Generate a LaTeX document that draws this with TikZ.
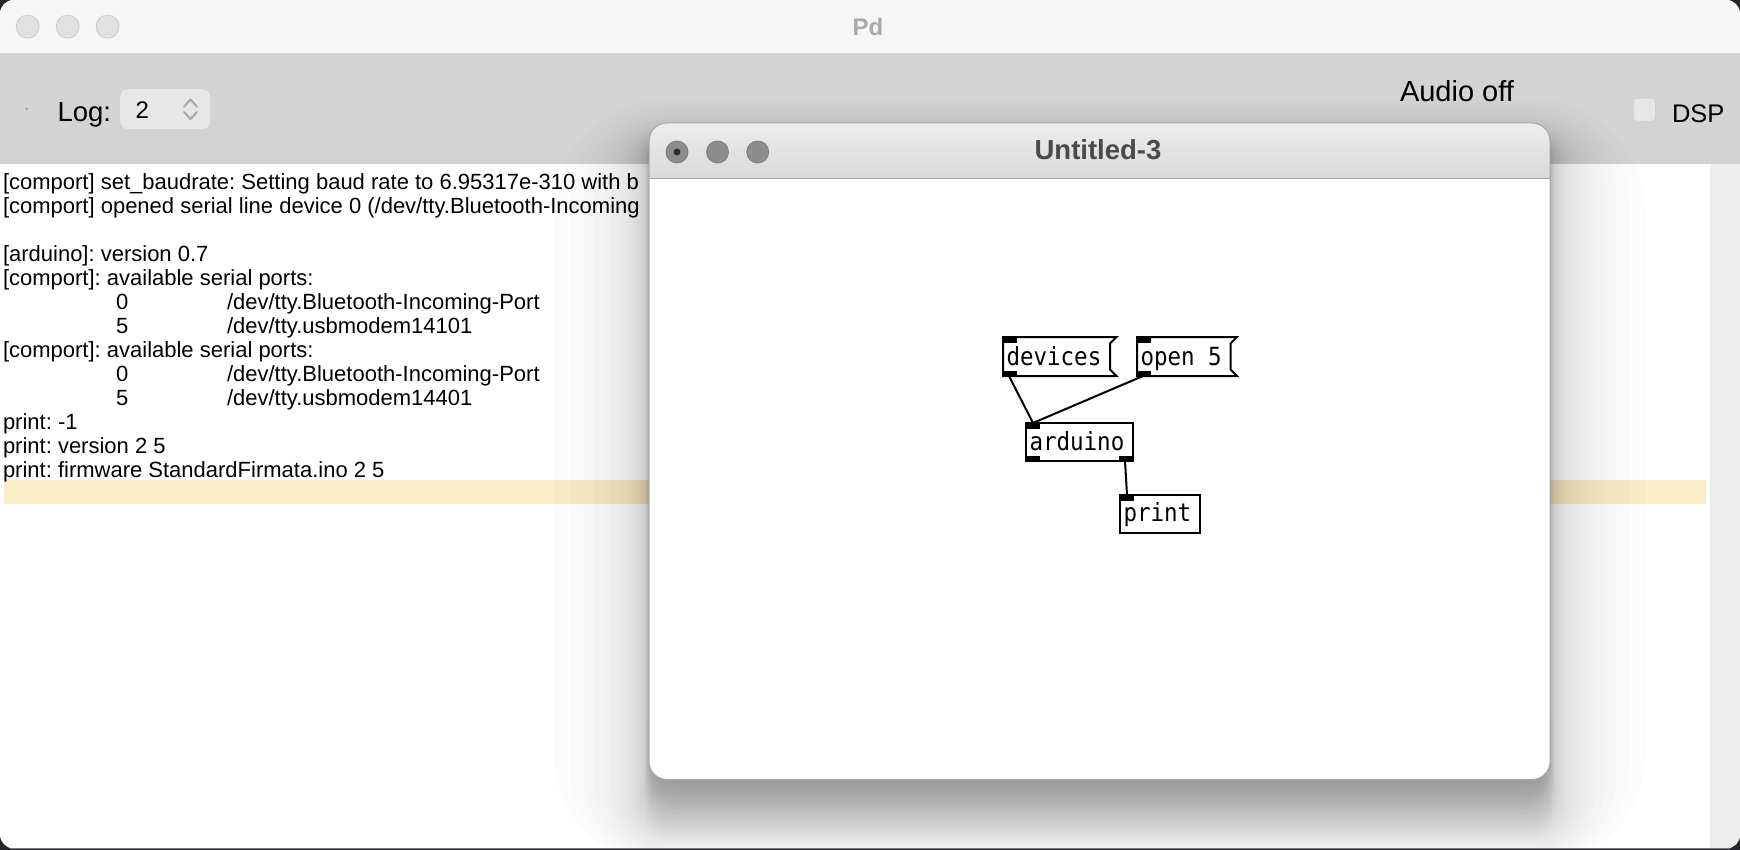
\documentclass[tikz,border=0pt]{standalone}
\usepackage{fontspec}
\setmainfont{Liberation Sans}
\newfontfamily\pdmono[FakeStretch=0.9]{DejaVu Sans Mono}
\usetikzlibrary{calc}
\definecolor{bgdark}{HTML}{26262C}
\definecolor{titlebg}{HTML}{F6F6F6}
\definecolor{sepcol}{HTML}{D4D4D4}
\definecolor{toolbg}{HTML}{D3D3D3}
\definecolor{scrollbg}{HTML}{EDEDED}
\definecolor{hilite}{HTML}{FAECC6}
\definecolor{lightfill}{HTML}{E1E1E1}
\definecolor{lightedge}{HTML}{C9C9C9}
\definecolor{spinfill}{HTML}{E7E7E7}
\definecolor{chev}{HTML}{A9A9A9}
\definecolor{pdgray}{HTML}{AAAAAA}
\definecolor{wintop}{HTML}{EDEDED}
\definecolor{winbot}{HTML}{D9D9D9}
\definecolor{winedge}{HTML}{A8A8A8}
\definecolor{darklight}{HTML}{8D8D8D}
\definecolor{darkledge}{HTML}{7B7B7B}
\definecolor{titletext}{HTML}{4A4A4A}
\begin{document}
\frenchspacing
\begin{tikzpicture}[x=1pt,y=-1pt,
  logtxt/.style={anchor=base west, inner sep=0pt, outer sep=0pt, font=\frenchspacing\fontsize{22}{24}\selectfont, text=black},
  tooltxt/.style={anchor=base west, inner sep=0pt, outer sep=0pt, text=black},
  pdtxt/.style={anchor=base west, inner sep=0pt, outer sep=0pt, font=\pdmono\fontsize{25}{28}\selectfont},
  frame/.style={draw=none, inner sep=0pt, outer sep=0pt, anchor=north west},
  pdline/.style={draw=black, line width=2pt, fill=white, line join=miter},
  conn/.style={draw=black, line width=2pt},
  iolet/.style={fill=black},
  lightbtn/.style={circle, fill=lightfill, draw=lightedge, line width=0.8pt, minimum size=23pt, inner sep=0pt},
  darkbtn/.style={circle, fill=darklight, draw=darkledge, line width=0.8pt, minimum size=22pt, inner sep=0pt},
  chevline/.style={draw=chev, line width=2pt, line cap=round, line join=round}
]
\useasboundingbox (0,0) rectangle (1740,850);
\fill[bgdark] (0,0) rectangle (1740,850);
\begin{scope}
  \clip[rounded corners=14pt] (0,0) rectangle (1740,848.5);
  \fill[white] (0,0) rectangle (1740,850);
  % title bar
  \fill[titlebg] (0,0) rectangle (1740,53.5);
  \draw[sepcol, line width=1pt] (0,54) -- (1740,54);
  % toolbar
  \fill[toolbg] (0,54.5) rectangle (1740,164);
  % scroll strip
  \fill[scrollbg] (1710,164) rectangle (1740,850);
  % highlight
  \fill[hilite] (4,480) rectangle (1706,504);
  % log text
  \node[logtxt] (l0) at (3,189.7) {[comport] set\_baudrate: Setting baud rate to 6.95317e-310 with b};
  \node[logtxt] (l1) at (3,213.7) {[comport] opened serial line device 0 (/dev/tty.Bluetooth-Incoming};
  \node[logtxt] (l3) at (3,261.7) {[arduino]: version 0.7};
  \node[logtxt] (l4) at (3,285.7) {[comport]: available serial ports:};
  \node[logtxt] (l5a) at (116,309.7) {0};
  \node[logtxt] (l5b) at (227,309.7) {/dev/tty.Bluetooth-Incoming-Port};
  \node[logtxt] (l6a) at (116,333.7) {5};
  \node[logtxt] (l6b) at (227,333.7) {/dev/tty.usbmodem14101};
  \node[logtxt] (l7) at (3,357.7) {[comport]: available serial ports:};
  \node[logtxt] (l8a) at (116,381.7) {0};
  \node[logtxt] (l8b) at (227,381.7) {/dev/tty.Bluetooth-Incoming-Port};
  \node[logtxt] (l9a) at (116,405.7) {5};
  \node[logtxt] (l9b) at (227,405.7) {/dev/tty.usbmodem14401};
  \node[logtxt] (l10) at (3,429.7) {print: -1};
  \node[logtxt] (l11) at (3,453.7) {print: version 2 5};
  \node[logtxt] (l12) at (3,477.7) {print: firmware StandardFirmata.ino 2 5};
  % soft shadow of the patch window
  \foreach \i in {1,...,25} {
    \pgfmathsetmacro{\ee}{1.2^\i}
    \pgfmathsetmacro{\rr}{18+\ee}
    \fill[black, opacity=0.0135, rounded corners=\rr pt]
      ({649-\ee},{123+15-0.4*\ee}) rectangle ({1550+\ee},{779.5+3.5*\i});
  }
  \foreach \i in {1,...,10} {
    \fill[black, opacity=0.013, rounded corners=24pt]
      ({649+12-1.5*\i},700) rectangle ({1550-12+1.5*\i},{779.5+6*\i});
  }
\end{scope}
\draw[gray, line width=1pt] (10,848.5) -- (1730,848.5);
% main window controls
\node[lightbtn] (c1) at (27.7,26.6) {};
\node[lightbtn] (c2) at (67.7,26.6) {};
\node[lightbtn] (c3) at (107.6,26.6) {};
\node[anchor=base, inner sep=0pt, text=pdgray, font=\bfseries\fontsize{24}{26}\selectfont] (pdtitle) at (868,36) {Pd};
\fill[gray] (26.6,108.8) circle (1pt);
\node[tooltxt, font=\fontsize{27.5}{30}\selectfont] (logl) at (57.5,121.7) {Log:};
\node[fill=spinfill, rounded corners=8pt, minimum width=90pt, minimum height=40pt, inner sep=0pt, anchor=north west] (spin) at (120,89) {};
\node[tooltxt, font=\fontsize{24}{26}\selectfont] (spinval) at (135.5,119) {2};
\coordinate (chu) at (190.5,99.5);
\coordinate (chd) at (190.5,119);
\draw[chevline] ($(chu)+(-6.5,7.2)$) -- (chu) -- ($(chu)+(6.5,7.2)$);
\draw[chevline] ($(chd)+(-6.5,-7)$) -- (chd) -- ($(chd)+(6.5,-7)$);
\node[tooltxt, font=\fontsize{29}{31}\selectfont] (audio) at (1400,101.7) {Audio off};
\node[fill=spinfill, draw=lightedge, line width=0.5pt, rounded corners=4pt, minimum width=22pt, minimum height=23pt, inner sep=0pt, anchor=north west] (dspbox) at (1633,98) {};
\node[tooltxt, font=\fontsize{25.5}{28}\selectfont] (dsp) at (1672,122.3) {DSP};
% patch window
\begin{scope}
  \clip[rounded corners=18pt] (649,123) rectangle (1550,779.5);
  \fill[white] (649,123) rectangle (1550,779.5);
  \shade[top color=wintop, bottom color=winbot] (649,123) rectangle (1550,178);
  \draw[winedge, line width=1pt] (649,178.5) -- (1550,178.5);
\end{scope}
\draw[winedge, line width=1pt, rounded corners=18pt] (649,123) rectangle (1550,779.5);
\node[darkbtn] (d1) at (677,152) {};
\node[darkbtn] (d2) at (717.5,152) {};
\node[darkbtn] (d3) at (757.7,152) {};
\fill[black!82] (d1.center) circle (3.5pt);
\node[anchor=base, inner sep=0pt, text=titletext, font=\bfseries\fontsize{27.5}{29}\selectfont] (wtitle) at (1098,160) {Untitled-3};
% pd objects
\node[frame, minimum width=113.5pt, minimum height=39pt] (dev) at (1003,337) {};
\node[frame, minimum width=100pt, minimum height=39pt] (opn) at (1137,337) {};
\node[frame, minimum width=107pt, minimum height=38pt] (ard) at (1026,423) {};
\node[frame, minimum width=80pt, minimum height=38pt] (prt) at (1120,495) {};
% connections
\draw[conn] ($(dev.south west)+(6,0)$) -- ($(ard.north west)+(7,0)$);
\draw[conn] ($(opn.south west)+(6,0)$) -- ($(ard.north west)+(7,0)$);
\draw[conn] ($(ard.south east)+(-8,0)$) -- ($(prt.north west)+(7,0)$);
% message boxes
\draw[pdline] (dev.north west) -- (dev.north east) -- ($(dev.north east)+(-6.5,6.5)$) -- ($(dev.south east)+(-6.5,-6.5)$) -- (dev.south east) -- (dev.south west) -- cycle;
\draw[pdline] (opn.north west) -- (opn.north east) -- ($(opn.north east)+(-6.5,6.5)$) -- ($(opn.south east)+(-6.5,-6.5)$) -- (opn.south east) -- (opn.south west) -- cycle;
% object boxes
\draw[pdline] (ard.north west) rectangle (ard.south east);
\draw[pdline] (prt.north west) rectangle (prt.south east);
% inlets and outlets
\fill[iolet] (dev.north west) rectangle ++(14,5.5);
\fill[iolet] (dev.south west) rectangle ++(14,-5.5);
\fill[iolet] (opn.north west) rectangle ++(14,5.5);
\fill[iolet] (opn.south west) rectangle ++(14,-5.5);
\fill[iolet] (ard.north west) rectangle ++(14,5.5);
\fill[iolet] (ard.south west) rectangle ++(14,-5.5);
\fill[iolet] (ard.south east) rectangle ++(-14,-5.5);
\fill[iolet] (prt.north west) rectangle ++(14,5.5);
% texts
\node[pdtxt] (devt) at ($(dev.north west)+(3.5,28)$) {devices};
\node[pdtxt] (opnt) at ($(opn.north west)+(3.5,28)$) {open 5};
\node[pdtxt] (ardt) at ($(ard.north west)+(3.5,27.5)$) {arduino};
\node[pdtxt] (prtt) at ($(prt.north west)+(3.5,26.5)$) {print};
\end{tikzpicture}
\end{document}
